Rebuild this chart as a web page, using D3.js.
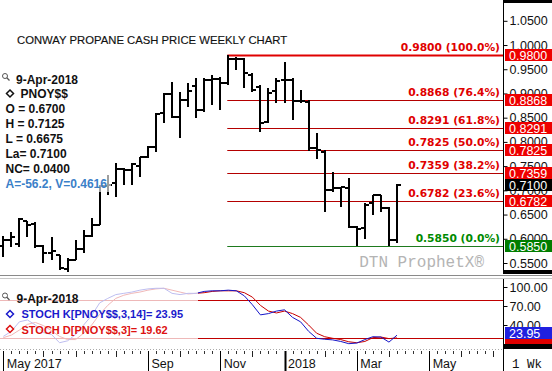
<!DOCTYPE html>
<html>
<head>
<meta charset="utf-8">
<script src="https://cdn.jsdelivr.net/npm/d3@7"></script>
<style>
  body { margin: 0; background: #fff; }
  svg { display: block; font-family: "Liberation Sans", Arial, sans-serif; }
</style>
</head>
<body>
<svg id="chart" width="552" height="371"></svg>
<script>
// weekly bars, Monday dates
const dates = [
  "2017-05-01","2017-05-08","2017-05-15","2017-05-22","2017-05-29",
  "2017-06-05","2017-06-12","2017-06-19","2017-06-26",
  "2017-07-03","2017-07-10","2017-07-17","2017-07-24","2017-07-31",
  "2017-08-07","2017-08-14","2017-08-21","2017-08-28",
  "2017-09-04","2017-09-11","2017-09-18","2017-09-25",
  "2017-10-02","2017-10-09","2017-10-16","2017-10-23","2017-10-30",
  "2017-11-06","2017-11-13","2017-11-20","2017-11-27",
  "2017-12-04","2017-12-11","2017-12-18","2017-12-25",
  "2018-01-01","2018-01-08","2018-01-15","2018-01-22","2018-01-29",
  "2018-02-05","2018-02-12","2018-02-19","2018-02-26",
  "2018-03-05","2018-03-12","2018-03-19","2018-03-26",
  "2018-04-02","2018-04-09"
];
const opens  = [0.585,0.597,0.590,0.636,0.630,0.585,0.570,0.566,0.538,0.556,
                0.578,0.605,0.628,0.708,0.715,0.745,0.742,0.750,0.768,0.789,
                0.859,0.899,0.851,0.887,0.915,0.866,0.928,0.930,0.921,0.972,
                0.971,0.938,0.913,0.841,0.905,0.928,0.928,0.885,0.882,0.787,
                0.780,0.700,0.705,0.705,0.624,0.622,0.673,0.690,0.663,0.597];
const highs  = [0.605,0.613,0.642,0.636,0.634,0.587,0.603,0.566,0.560,0.597,
                0.618,0.642,0.711,0.731,0.756,0.747,0.756,0.769,0.791,0.859,
                0.901,0.924,0.903,0.921,0.932,0.932,0.938,0.935,0.980,0.975,
                0.973,0.942,0.917,0.911,0.932,0.965,0.932,0.908,0.887,0.818,
                0.783,0.737,0.707,0.726,0.627,0.674,0.690,0.690,0.665,0.7125];
const lows   = [0.562,0.582,0.582,0.603,0.580,0.551,0.556,0.535,0.531,0.556,
                0.570,0.603,0.628,0.690,0.686,0.711,0.711,0.727,0.767,0.779,
                0.839,0.849,0.808,0.872,0.849,0.862,0.876,0.866,0.918,0.949,
                0.911,0.903,0.820,0.839,0.880,0.880,0.845,0.880,0.782,0.765,
                0.655,0.696,0.666,0.622,0.585,0.600,0.650,0.655,0.585,0.592];
const closes = [0.597,0.603,0.640,0.628,0.585,0.570,0.575,0.540,0.557,0.578,
                0.605,0.628,0.708,0.712,0.745,0.742,0.754,0.768,0.789,0.857,
                0.899,0.851,0.886,0.905,0.866,0.928,0.930,0.921,0.971,0.972,
                0.942,0.907,0.838,0.901,0.925,0.928,0.885,0.885,0.787,0.783,
                0.700,0.705,0.707,0.624,0.620,0.670,0.690,0.663,0.597,0.710];

// stochastics
const stochK = [22,30,45,48,40,28,25,12,15,25,40,55,75,82,88,90,92,95,97,98,
                98,90,88,90,90,93,94,94,95,94,86,72,56,58,62,64,52,45,30,19,
                17.5,16.5,14,10.5,11.5,17,21.5,21,13,23.95];
const stochD = [20,24,32,41,44,39,31,22,17,17,27,40,57,71,82,87,90,92,95,97,
                98,95,92,89,90,91,93,94,94,94,91,84,71,62,59,62,58,52,40,27,
                21.5,19,17,13.5,12,14,20,21,18.5,19.62];

const fibLevels = [0.98, 0.8868, 0.8291, 0.7825, 0.7359, 0.6782, 0.585];
const fibPcts   = ["100.0", "76.4", "61.8", "50.0", "38.2", "23.6", "0.0"];
const lastPrice = 0.71;

const priceTicks = [0.55,0.60,0.65,0.70,0.75,0.80,0.85,0.90,0.95,1.00,1.05];
const stochTicks = [100, 70, 40, 10];
const stochBands = [80, 20];

const labelTicks = ["2017-05-01","2017-09-04","2017-11-06","2018-01-01","2018-03-05","2018-05-07"];
const labelTexts = ["May 2017","Sep","Nov","2018","Mar","May"];
const monthTicks = ["2017-06-05","2017-07-03","2017-08-07","2017-10-02","2017-12-04",
                    "2018-02-05","2018-04-02","2018-06-04","2018-07-02"];

const legendDate  = "9-Apr-2018";
const legendSym   = "PNOY$$";
const legendLines = ["O = 0.6700","H = 0.7125","L = 0.6675","La= 0.7100","NC= 0.0400"];
const legendExtra = "A=-56.2, V=0.4616";

const svg = d3.select("#chart");
const parse = d3.utcParse("%Y-%m-%d");
const W = 552, plotR = 503;

const x = d3.scaleUtc()
  .domain([parse(dates[0]), parse(dates[dates.length - 1])])
  .range([3.3, 397]);
const y = d3.scaleLinear().domain([0.55, 1.05]).range([263, 20.8]);
const ys = d3.scaleLinear().domain([10, 100]).range([344, 287]);

const bars = dates.map((d, i) => ({
  date: parse(d), o: opens[i], h: highs[i], l: lows[i], c: closes[i],
  k: stochK[i], dd: stochD[i]
}));

const defs = svg.append("defs");
defs.append("clipPath").attr("id", "mainClip")
  .append("rect").attr("x", 0).attr("y", 4).attr("width", plotR).attr("height", 268);

// ---------- main price panel ----------
const main = svg.append("g").attr("clip-path", "url(#mainClip)");

// fib lines start at the swing high bar
const fibStart = x(parse("2017-11-13")) - 1;
main.selectAll("line.fib")
  .data(fibLevels)
  .join("line")
  .attr("class", "fib")
  .attr("x1", fibStart).attr("x2", plotR)
  .attr("y1", d => Math.round(y(d)) + 0.5).attr("y2", d => Math.round(y(d)) + 0.5)
  .attr("stroke", (d, i) => i === fibLevels.length - 1 ? "#1e7a1e" : (i === 0 ? "#e00000" : "#b40000"))
  .attr("stroke-width", (d, i) => i === 0 ? 2 : 1);

main.selectAll("text.fib")
  .data(fibLevels)
  .join("text")
  .attr("class", "fib")
  .attr("x", 500)
  .attr("y", d => y(d) - 4)
  .attr("text-anchor", "end")
  .style("font-family", "'DejaVu Sans', Verdana, sans-serif")
  .style("font-weight", "bold")
  .style("font-size", "10.7px")
  .attr("fill", (d, i) => i === fibLevels.length - 1 ? "#008a00" : "#e00000")
  .text((d, i) => `${d.toFixed(4)} (${fibPcts[i]}%)`);

// watermark
main.append("text")
  .attr("x", 484).attr("y", 267)
  .attr("text-anchor", "end")
  .style("font-family", "'Liberation Mono', 'Courier New', monospace")
  .style("font-size", "16px")
  .attr("fill", "#b4b4b4")
  .text("DTN ProphetX®");

// OHLC bars
const barG = main.selectAll("g.bar")
  .data(bars)
  .join("g")
  .attr("class", "bar")
  .attr("stroke", "#000")
  .attr("stroke-width", 2)
  .attr("shape-rendering", "crispEdges");

barG.append("line")
  .attr("x1", d => Math.round(x(d.date))).attr("x2", d => Math.round(x(d.date)))
  .attr("y1", d => y(d.h)).attr("y2", d => y(d.l));
barG.append("line")
  .attr("x1", d => Math.round(x(d.date)) - 4).attr("x2", d => Math.round(x(d.date)))
  .attr("y1", d => y(d.o)).attr("y2", d => y(d.o));
barG.append("line")
  .attr("x1", d => Math.round(x(d.date))).attr("x2", d => Math.round(x(d.date)) + 4)
  .attr("y1", d => y(d.c)).attr("y2", d => y(d.c));

// semi-transparent legend backdrop
svg.append("rect")
  .attr("x", 0).attr("y", 70).attr("width", 111).attr("height", 122)
  .attr("fill", "#fff").attr("opacity", 0.62);

// title + legend
svg.append("text")
  .attr("x", 17).attr("y", 44)
  .style("font-size", "11.3px")
  .attr("fill", "#111")
  .attr("stroke", "#111").attr("stroke-width", 0.15)
  .text("CONWAY PROPANE CASH PRICE WEEKLY CHART");

function magnifier(g, cx, cy) {
  g.append("circle").attr("cx", cx).attr("cy", cy).attr("r", 2.5)
    .attr("fill", "none").attr("stroke", "#555").attr("stroke-width", 1);
  g.append("line").attr("x1", cx + 1.8).attr("y1", cy + 1.8).attr("x2", cx + 4.5).attr("y2", cy + 4.5)
    .attr("stroke", "#555").attr("stroke-width", 1.3);
}
function diamond(g, cx, cy, color) {
  g.append("path")
    .attr("d", `M${cx},${cy - 3.5}L${cx + 3.5},${cy}L${cx},${cy + 3.5}L${cx - 3.5},${cy}Z`)
    .attr("fill", "#fff").attr("stroke", color).attr("stroke-width", 1.5);
}

const leg = svg.append("g")
  .style("font-weight", "bold")
  .style("font-size", "12px");
magnifier(leg, 5, 76);
leg.append("text").attr("x", 16).attr("y", 83.5).attr("fill", "#111").text(legendDate);
diamond(leg, 10, 93.5, "#111");
leg.append("text").attr("x", 20.5).attr("y", 98).attr("fill", "#111").text(legendSym);
leg.selectAll("text.ln")
  .data(legendLines)
  .join("text")
  .attr("class", "ln")
  .attr("x", 5.5)
  .attr("y", (d, i) => 112.5 + i * 15)
  .attr("fill", "#111")
  .text(d => d);
leg.append("text").attr("x", 5.5).attr("y", 112.5 + legendLines.length * 15)
  .attr("fill", "#3a80c8").text(legendExtra);

// ---------- right price axis ----------
const axisMain = svg.append("g")
  .attr("transform", `translate(${plotR + 0.5},0)`)
  .call(d3.axisRight(y).tickValues(priceTicks).tickSize(4).tickSizeOuter(0)
    .tickFormat(d3.format(".4f")));
axisMain.select(".domain").remove();
axisMain.selectAll("text")
  .attr("x", 6)
  .style("font-family", "'Liberation Sans', Arial, sans-serif")
  .style("font-size", "12.5px")
  .attr("fill", "#111");

svg.append("line").attr("x1", plotR + 0.5).attr("x2", plotR + 0.5)
  .attr("y1", 0).attr("y2", 274).attr("stroke", "#000");
svg.append("rect").attr("x", plotR).attr("y", 0).attr("width", W - plotR).attr("height", 3).attr("fill", "#000");
svg.append("rect").attr("x", plotR).attr("y", 270).attr("width", W - plotR).attr("height", 4).attr("fill", "#000");

// price flags
const flags = fibLevels.map((v, i) => ({ v, color: i === fibLevels.length - 1 ? "#007d00" : "#ee0000" }));
flags.push({ v: lastPrice, color: "#000" });
const flagG = svg.selectAll("g.flag")
  .data(flags)
  .join("g")
  .attr("class", "flag")
  .attr("transform", d => `translate(${plotR + 2},${Math.round(y(d.v))})`);
flagG.append("rect")
  .attr("x", 0).attr("y", -6).attr("width", W - plotR - 2).attr("height", 12)
  .attr("fill", d => d.color);
flagG.append("text")
  .attr("x", 4).attr("y", 4.5)
  .style("font-size", "12.5px")
  .attr("fill", "#fff")
  .text(d => d.v.toFixed(4));

// panel separator
svg.append("line").attr("x1", 0).attr("x2", W).attr("y1", 275.5).attr("y2", 275.5).attr("stroke", "#8a8a8a");
svg.append("line").attr("x1", 0).attr("x2", W).attr("y1", 278.5).attr("y2", 278.5).attr("stroke", "#c8c8c8");

// ---------- stochastic panel ----------
const low = svg.append("g");
low.selectAll("line.band")
  .data(stochBands)
  .join("line")
  .attr("class", "band")
  .attr("x1", 0).attr("x2", plotR)
  .attr("y1", d => Math.round(ys(d)) + 0.5).attr("y2", d => Math.round(ys(d)) + 0.5)
  .attr("stroke", "#c00000");

const lineD = d3.line().x(d => x(d.date)).y(d => ys(d.dd));
const lineK = d3.line().x(d => x(d.date)).y(d => ys(d.k));
low.append("path").datum(bars).attr("d", lineD)
  .attr("fill", "none").attr("stroke", "#c80000").attr("stroke-width", 1);
low.append("path").datum(bars).attr("d", lineK)
  .attr("fill", "none").attr("stroke", "#1515c8").attr("stroke-width", 1);

svg.append("rect")
  .attr("x", 0).attr("y", 281).attr("width", 198).attr("height", 64)
  .attr("fill", "#fff").attr("opacity", 0.72);

const leg2 = svg.append("g")
  .style("font-weight", "bold")
  .style("font-size", "11px");
magnifier(leg2, 5, 295.5);
leg2.append("text").attr("x", 16.5).attr("y", 302.5).style("font-size", "12px").attr("fill", "#111").text(legendDate);
diamond(leg2, 10, 314, "#1a1acc");
leg2.append("text").attr("x", 21.5).attr("y", 318).attr("fill", "#1a1acc")
  .text(`STOCH K[PNOY$$,3,14]= ${stochK[stochK.length - 1].toFixed(2)}`);
diamond(leg2, 10, 329, "#dd1111");
leg2.append("text").attr("x", 21.5).attr("y", 333.5).attr("fill", "#dd1111")
  .text(`STOCH D[PNOY$$,3]= ${stochD[stochD.length - 1].toFixed(2)}`);

const axisLow = svg.append("g")
  .attr("transform", `translate(${plotR + 0.5},0)`)
  .call(d3.axisRight(ys).tickValues(stochTicks).tickSize(4).tickSizeOuter(0)
    .tickFormat(d3.format(".2f")));
axisLow.select(".domain").remove();
axisLow.selectAll("text")
  .attr("x", 6)
  .style("font-family", "'Liberation Sans', Arial, sans-serif")
  .style("font-size", "12.5px")
  .attr("fill", "#111");
svg.append("line").attr("x1", plotR + 0.5).attr("x2", plotR + 0.5)
  .attr("y1", 279).attr("y2", 371).attr("stroke", "#000");

// stoch flags: D flag sits under K flag, only its lower edge shows
const dFlag = stochD[stochD.length - 1];
const kFlag = stochK[stochK.length - 1];
svg.append("rect")
  .attr("x", plotR + 2).attr("y", Math.round(ys(dFlag)) - 6)
  .attr("width", W - plotR - 2).attr("height", 12)
  .attr("fill", "#e00000");
const kG = svg.append("g")
  .attr("transform", `translate(${plotR + 2},${Math.round(ys(kFlag)) - 2})`);
kG.append("rect")
  .attr("x", 0).attr("y", -6).attr("width", W - plotR - 2).attr("height", 12)
  .attr("fill", "#2020e0");
kG.append("text")
  .attr("x", 4).attr("y", 4.5)
  .style("font-size", "12.5px")
  .attr("fill", "#fff")
  .text(kFlag.toFixed(2));
svg.append("rect").attr("x", plotR).attr("y", 344).attr("width", W - plotR).attr("height", 5).attr("fill", "#000");

// ---------- date axis ----------
svg.append("line").attr("x1", 0).attr("x2", plotR).attr("y1", 349.5).attr("y2", 349.5)
  .attr("stroke", "#aaa").attr("stroke-dasharray", "1,2");

const weekTicks = d3.utcMonday.range(parse("2017-04-24"), parse("2018-07-09"));
svg.selectAll("line.wk")
  .data(weekTicks)
  .join("line")
  .attr("class", "wk")
  .attr("x1", d => Math.round(x(d)) + 0.5).attr("x2", d => Math.round(x(d)) + 0.5)
  .attr("y1", 351).attr("y2", 354)
  .attr("stroke", "#333");
svg.selectAll("line.mo")
  .data(monthTicks)
  .join("line")
  .attr("class", "mo")
  .attr("x1", d => Math.round(x(parse(d))) + 0.5).attr("x2", d => Math.round(x(parse(d))) + 0.5)
  .attr("y1", 351).attr("y2", 357)
  .attr("stroke", "#222");
svg.selectAll("line.lab")
  .data(labelTicks)
  .join("line")
  .attr("class", "lab")
  .attr("x1", d => Math.round(x(parse(d))) + 0.5).attr("x2", d => Math.round(x(parse(d))) + 0.5)
  .attr("y1", 351).attr("y2", 371)
  .attr("stroke", "#000")
  .attr("stroke-width", (d, i) => labelTexts[i] === "2018" ? 2 : 1);
svg.selectAll("text.lab")
  .data(labelTicks)
  .join("text")
  .attr("class", "lab")
  .attr("x", d => x(parse(d)) + 3.5)
  .attr("y", 368)
  .style("font-size", "12.5px")
  .attr("fill", "#111")
  .text((d, i) => labelTexts[i]);

svg.append("text")
  .attr("x", 512).attr("y", 368)
  .style("font-family", "'Liberation Mono', 'Courier New', monospace")
  .style("font-size", "12.5px")
  .attr("fill", "#111")
  .text("1 Wk");
</script>
</body>
</html>
